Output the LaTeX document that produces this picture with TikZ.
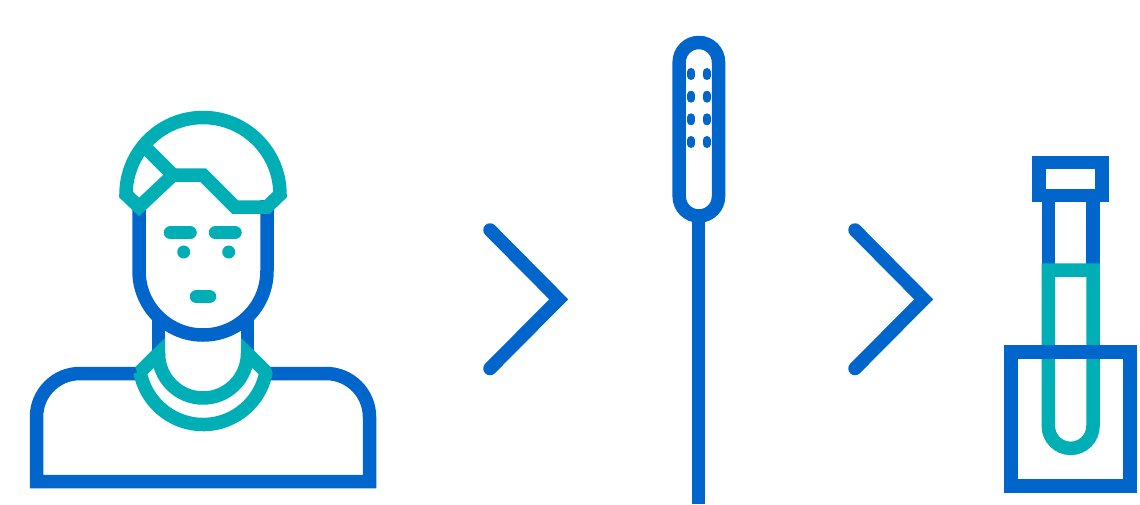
\documentclass[tikz,border=0pt]{standalone}
\definecolor{iconblue}{HTML}{0066CC}
\definecolor{iconteal}{HTML}{00AFB5}
\tikzset{
  blueline/.style={draw=iconblue,line width=13.5pt,miter limit=10},
  tealline/.style={draw=iconteal,line width=13.5pt,miter limit=10},
  roundteal/.style={tealline,line cap=round},
  swabdot/.style={draw=iconblue,line width=8pt,line cap=round},
  chevron/.style={blueline,line cap=round,line join=miter}
}
\begin{document}
\begin{tikzpicture}[x=1pt,y=-1pt]
\useasboundingbox (0,0) rectangle (1140,504);
\fill[white] (0,0) rectangle (1140,504);
% body
\draw[blueline] (140,373.5) -- (80,373.5) arc[start angle=270,end angle=180,radius=43.5] -- (36.5,481.7) -- (369.5,481.7) -- (369.5,417) arc[start angle=0,end angle=-90,radius=43.5] -- (266,373.5);
% neck
\draw[blueline] (158.5,317) -- (158.5,358);
\draw[blueline] (247.5,317) -- (247.5,358);
% collar
\fill[iconteal] (135.4,367.4) -- (165,338) -- (165,360) -- (150,362) -- cycle;
\fill[iconteal] (270.6,367.4) -- (241,338) -- (241,360) -- (256,362) -- cycle;
\draw[tealline,line join=bevel] (140,372) -- (158.5,353.5) arc[start angle=180,end angle=0,radius=44.5] -- (266,372) arc[start angle=10.35,end angle=169.65,radius=64] -- cycle;
% face
\filldraw[blueline,fill=white] (139,200) -- (139,271) arc[start angle=180,end angle=0,radius=64] -- (267,200);
% hair
\draw[tealline] (126,194.5) arc[start angle=180,end angle=360,radius=77] -- (267,207) -- (235,207) -- (203,175) -- (173,175) -- (139,207) -- cycle;
\draw[tealline] (145,147) -- (173,175);
% features
\draw[roundteal] (170.5,232.7) -- (190,232.7);
\draw[roundteal] (215.5,232.7) -- (235,232.7);
\fill[iconteal] (183.7,252) circle[radius=6.5];
\fill[iconteal] (228.7,252) circle[radius=6.5];
\draw[roundteal] (196.5,296.7) -- (209.5,296.7);
% chevrons
\draw[chevron] (490,230) -- (558.7,299.3) -- (490,368.5);
\draw[chevron] (855,230) -- (923.7,299.3) -- (855,368.5);
% swab
\draw[blueline] (698.7,216) -- (698.7,504);
\draw[blueline,rounded corners=19.6pt] (679.2,42.5) rectangle (718.5,216);
\foreach \yy in {74,96.7,119.3,142}{
  \draw[swabdot] (691,\yy-2) -- (691,\yy+2);
  \draw[swabdot] (706.7,\yy-2) -- (706.7,\yy+2);
}
% tube
\draw[blueline] (1048.3,202) -- (1048.3,270);
\draw[blueline] (1093,202) -- (1093,270);
\draw[blueline] (1039.2,162.5) rectangle (1102.2,195.5);
\draw[tealline] (1048.3,270) -- (1048.3,426) arc[start angle=180,end angle=0,radius=22.35] -- (1093,270) -- cycle;
\draw[blueline] (1010.8,352.2) rectangle (1130.2,486.2);
\end{tikzpicture}
\end{document}
